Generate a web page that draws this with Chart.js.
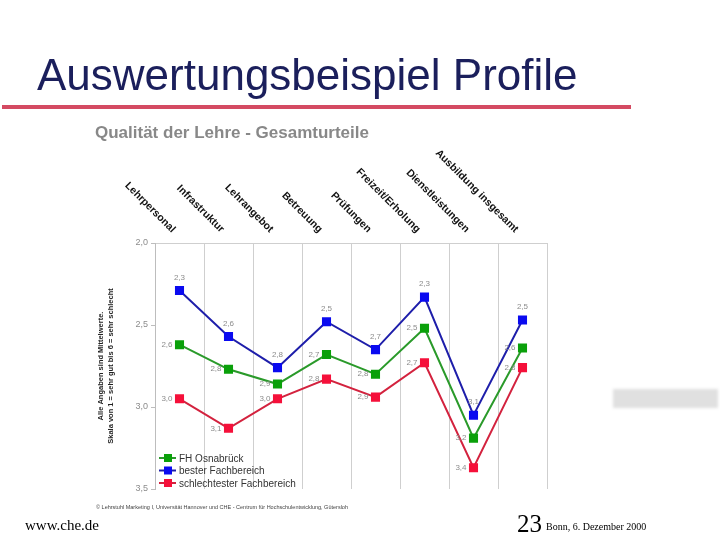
<!DOCTYPE html>
<html>
<head>
<meta charset="utf-8">
<script src="https://cdn.jsdelivr.net/npm/chart.js@4"></script>
<style>
  html, body { margin: 0; padding: 0; background: #fff; }
  #page { position: relative; width: 720px; height: 540px; overflow: hidden; }
  #chart { position: absolute; left: 0; top: 0; }
  .txt { position: absolute; white-space: nowrap; }
  #slideTitle { left: 37px; top: 50px; font: 44px "Liberation Sans", Arial, sans-serif; color: #1b1f5c; }
  #redLine { position: absolute; left: 2px; top: 105px; width: 629px; height: 4px; background: #d44a62; }
  #chartTitle { left: 95px; top: 123px; font: bold 17px "Liberation Sans", Arial, sans-serif; color: #888; }
  #copy { left: 96px; top: 504px; font: 5.5px "Liberation Sans", Arial, sans-serif; color: #444; }
  #url { left: 25px; top: 517px; font: 15px "Liberation Serif", "Times New Roman", serif; color: #000; }
  #pageNo { left: 517px; top: 510px; font: 25px "Liberation Serif", "Times New Roman", serif; color: #000; }
  #date { left: 546px; top: 521px; font: 10px "Liberation Serif", "Times New Roman", serif; color: #000; }
  #smear { position: absolute; left: 613px; top: 389px; width: 105px; height: 19px; background: #e0e0e0; filter: blur(1.5px); }
</style>
</head>
<body>
<div id="page">
  <canvas id="chart" width="720" height="540"></canvas>
  <div class="txt" id="slideTitle">Auswertungsbeispiel Profile</div>
  <div id="redLine"></div>
  <div class="txt" id="chartTitle">Qualität der Lehre - Gesamturteile</div>
  <div class="txt" id="copy">© Lehrstuhl Marketing I, Universität Hannover und CHE - Centrum für Hochschulentwicklung, Gütersloh</div>
  <div class="txt" id="url">www.che.de</div>
  <div class="txt" id="pageNo">23</div>
  <div class="txt" id="date">Bonn, 6. Dezember 2000</div>
  <div id="smear"></div>
</div>
<script>
var categories = ['Lehrpersonal', 'Infrastruktur', 'Lehrangebot', 'Betreuung', 'Prüfungen', 'Freizeit/Erholung', 'Dienstleistungen', 'Ausbildung insgesamt'];

var fhOsnabrueck = [2.62, 2.77, 2.86, 2.68, 2.80, 2.52, 3.19, 2.64];
var besterFachbereich = [2.29, 2.57, 2.76, 2.48, 2.65, 2.33, 3.05, 2.47];
var schlechtesterFachbereich = [2.95, 3.13, 2.95, 2.83, 2.94, 2.73, 3.37, 2.76];

// value labels as printed next to the points
var fhLabels = ['2,6', '2,8', '2,9', '2,7', '2,8', '2,5', '3,2', '2,6'];
var besterLabels = ['2,3', '2,6', '2,8', '2,5', '2,7', '2,3', '3,1', '2,5'];
var schlechtesterLabels = ['3,0', '3,1', '3,0', '2,8', '2,9', '2,7', '3,4', '2,8'];

var yTicks = [2.0, 2.5, 3.0, 3.5];

// category names rotated above the plot
var categoryLabels = {
    id: 'categoryLabels',
    afterDraw: function(chart) {
        var ctx = chart.ctx;
        var xs = chart.scales.x;
        var top = chart.chartArea.top;
        ctx.save();
        ctx.font = 'bold 10.5px "Liberation Sans", Arial, sans-serif';
        ctx.fillStyle = '#111';
        ctx.textAlign = 'right';
        ctx.textBaseline = 'alphabetic';
        categories.forEach(function(c, i) {
            ctx.save();
            ctx.translate(xs.getPixelForValue(i) - 8, top - 10);
            ctx.rotate(Math.PI / 4);
            ctx.fillText(c, 0, 0);
            ctx.restore();
        });
        ctx.restore();
    }
};

// small grey value labels
var valueLabels = {
    id: 'valueLabels',
    afterDatasetsDraw: function(chart) {
        var ctx = chart.ctx;
        ctx.save();
        ctx.font = '8px "Liberation Sans", Arial, sans-serif';
        ctx.fillStyle = '#8c8c8c';
        chart.data.datasets.forEach(function(ds, d) {
            var meta = chart.getDatasetMeta(d);
            meta.data.forEach(function(pt, i) {
                if (ds.labelPos === 'above') {
                    ctx.textAlign = 'center';
                    ctx.textBaseline = 'bottom';
                    ctx.fillText(ds.valueLabels[i], pt.x, pt.y - 9);
                } else {
                    ctx.textAlign = 'right';
                    ctx.textBaseline = 'middle';
                    ctx.fillText(ds.valueLabels[i], pt.x - 7, pt.y);
                }
            });
        });
        ctx.restore();
    }
};

// legend inside the plot, bottom left
var innerLegend = {
    id: 'innerLegend',
    afterDraw: function(chart) {
        var ctx = chart.ctx;
        var x = chart.chartArea.left + 4;
        var y = chart.chartArea.bottom - 31;
        ctx.save();
        ctx.font = '10px "Liberation Sans", Arial, sans-serif';
        ctx.textAlign = 'left';
        ctx.textBaseline = 'middle';
        chart.data.datasets.forEach(function(ds, d) {
            var yy = y + d * 12.5;
            ctx.strokeStyle = ds.borderColor;
            ctx.lineWidth = 2;
            ctx.beginPath();
            ctx.moveTo(x, yy);
            ctx.lineTo(x + 17, yy);
            ctx.stroke();
            ctx.fillStyle = ds.pointBackgroundColor;
            ctx.fillRect(x + 5, yy - 4, 8, 8);
            ctx.fillStyle = '#333';
            ctx.fillText(ds.label, x + 20, yy + 1);
        });
        ctx.restore();
    }
};

var ctx = document.getElementById('chart').getContext('2d');
var chart = new Chart(ctx, {
    type: 'line',
    data: {
        labels: categories,
        datasets: [{
            label: 'FH Osnabrück',
            data: fhOsnabrueck,
            valueLabels: fhLabels,
            labelPos: 'left',
            borderColor: '#2a9a2a',
            pointBackgroundColor: '#0aa00a',
            pointBorderColor: '#0aa00a',
            borderWidth: 2,
            pointStyle: 'rect',
            pointRadius: 5
        }, {
            label: 'bester Fachbereich',
            data: besterFachbereich,
            valueLabels: besterLabels,
            labelPos: 'above',
            borderColor: '#1e1eaa',
            pointBackgroundColor: '#0a0af0',
            pointBorderColor: '#0a0af0',
            borderWidth: 2,
            pointStyle: 'rect',
            pointRadius: 5
        }, {
            label: 'schlechtester Fachbereich',
            data: schlechtesterFachbereich,
            valueLabels: schlechtesterLabels,
            labelPos: 'left',
            borderColor: '#d3223e',
            pointBackgroundColor: '#f5103a',
            pointBorderColor: '#f5103a',
            borderWidth: 2,
            pointStyle: 'rect',
            pointRadius: 5
        }]
    },
    options: {
        responsive: false,
        animation: false,
        layout: {
            padding: { left: 96, top: 243, right: 173, bottom: 51 }
        },
        plugins: {
            legend: { display: false },
            tooltip: { enabled: false }
        },
        scales: {
            x: {
                offset: true,
                afterFit: function(s) { s.height = 0; },
                ticks: { display: false },
                grid: { offset: true, color: '#cfcfcf', lineWidth: 1, drawTicks: false },
                border: { display: false }
            },
            y: {
                reverse: true,
                min: 2.0,
                max: 3.5,
                afterFit: function(s) { s.width = 59; },
                afterBuildTicks: function(s) {
                    s.ticks = yTicks.map(function(v) { return { value: v }; });
                },
                ticks: {
                    color: '#8c8c8c',
                    font: { size: 9, family: '"Liberation Sans", Arial, sans-serif' },
                    padding: 3,
                    callback: function(v) { return v.toFixed(1).replace('.', ','); }
                },
                grid: {
                    color: function(c) { return c.tick && c.tick.value === 2.0 ? '#cfcfcf' : 'rgba(0,0,0,0)'; },
                    tickColor: '#bdbdbd',
                    tickLength: 4
                },
                border: { display: true, color: '#bdbdbd' },
                title: {
                    display: true,
                    text: ['Alle Angaben sind Mittelwerte.', 'Skala von 1 = sehr gut bis 6 = sehr schlecht'],
                    color: '#222',
                    font: { size: 7.5, weight: 'bold', family: '"Liberation Sans", Arial, sans-serif', lineHeight: 1.35 },
                    padding: { top: 0, bottom: 0 }
                }
            }
        }
    },
    plugins: [categoryLabels, valueLabels, innerLegend]
});
</script>
</body>
</html>
